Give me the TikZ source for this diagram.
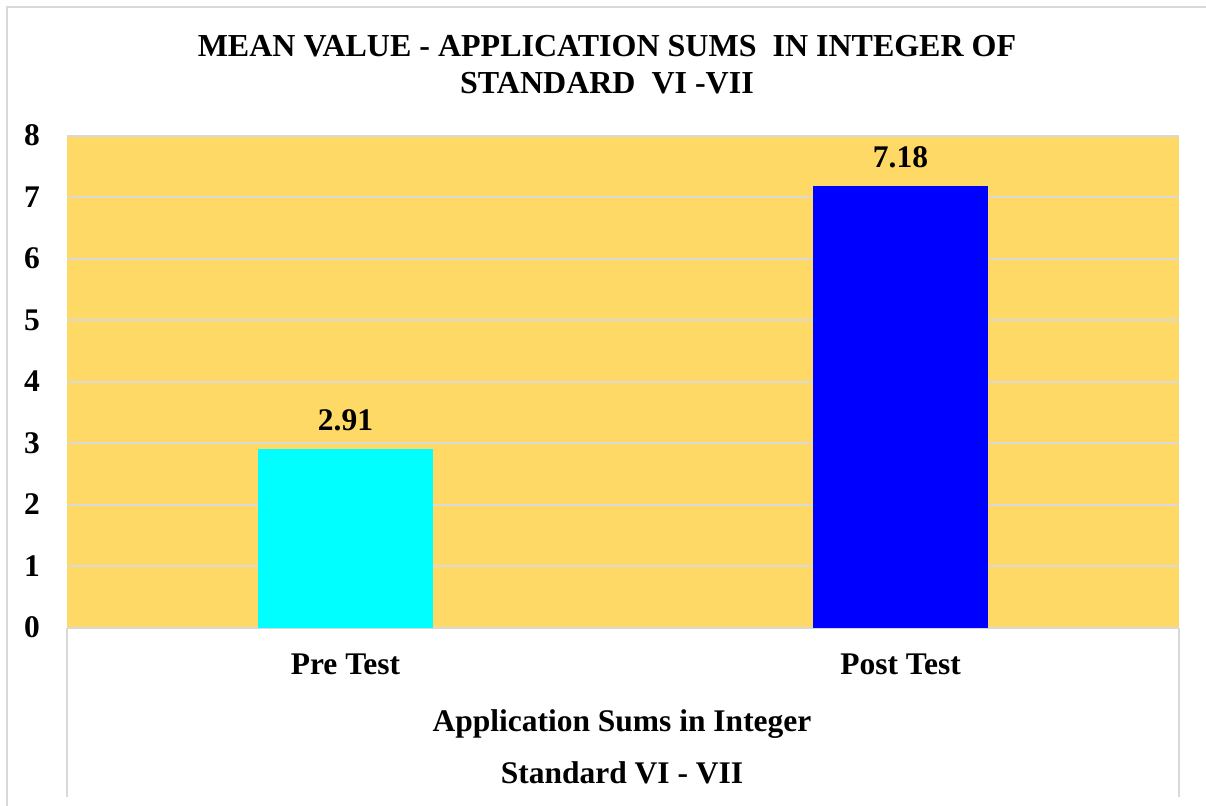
\documentclass[tikz,border=0pt]{standalone}
\usepackage{fontspec}
\setmainfont{Liberation Serif}
\definecolor{plotbg}{HTML}{FFD966}
\definecolor{gridgray}{HTML}{D9D9D9}
\definecolor{preclr}{HTML}{00FFFF}
\definecolor{postclr}{HTML}{0000FF}
\tikzset{
  lbl/.style={font=\bfseries\fontsize{31.5bp}{36bp}\selectfont, inner sep=0pt, anchor=base},
  ttl/.style={font=\bfseries\fontsize{32bp}{36bp}\selectfont, inner sep=0pt, anchor=base},
  gridln/.style={draw=gridgray, line width=2bp},
  frameln/.style={draw=gridgray, line width=1.5bp},
  bar/.style={draw=none},
}
\begin{document}
\begin{tikzpicture}[x=1bp, y=-1bp]
  \useasboundingbox (0,0) rectangle (1206,806);
  \fill[white] (0,0) rectangle (1206,806);
  % chart frame (clipped at the right and bottom)
  \draw[frameln] (7,806) -- (7,7) -- (1206,7);
  % plot area
  \fill[plotbg] (67,135.5) rectangle (1179,627.5);
  % horizontal grid lines, one per unit (61.5 per unit)
  \foreach \v in {1,...,8} {
    \draw[gridln] (67,{627.5-61.5*\v}) -- (1179,{627.5-61.5*\v});
  }
  % category axis and group dividers
  \draw[gridln] (67,627.5) -- (1179,627.5);
  \draw[frameln] (67,627.5) -- (67,797);
  \draw[frameln] (1179,627.5) -- (1179,797);
  % bars
  \fill[bar, preclr] (258,{627.5-61.5*2.91}) rectangle (433,627.5);
  \fill[bar, postclr] (813,{627.5-61.5*7.18}) rectangle (988,627.5);
  % value axis labels
  \foreach \v in {0,...,8} {
    \node[lbl] (y\v) at (32,{627.5-61.5*\v+10.3}) {\v};
  }
  % data labels
  \node[lbl] (dpre) at (345.5,430) {2.91};
  \node[lbl] (dpost) at (900.5,167) {7.18};
  % category labels
  \node[lbl] (cpre) at (345.5,674) {Pre Test};
  \node[lbl] (cpost) at (900.5,674) {Post Test};
  % axis titles
  \node[lbl] (ax1) at (622,731) {Application Sums in Integer};
  \node[lbl] (ax2) at (622,783) {Standard VI - VII};
  % chart title
  \node[ttl] (t1) at (607,57) {MEAN VALUE - APPLICATION SUMS\ \ IN INTEGER OF};
  \node[ttl] (t2) at (607,94) {STANDARD\ \ VI -VII};
\end{tikzpicture}
\end{document}
